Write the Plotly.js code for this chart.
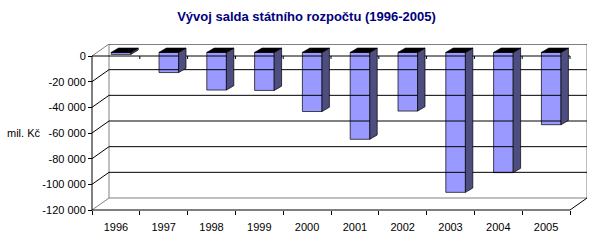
<!DOCTYPE html>
<html><head><meta charset="utf-8">
<script src="https://cdn.plot.ly/plotly-3.0.1.min.js"></script>
<style>html,body{margin:0;padding:0;background:#fff}#chart{width:604px;height:244px}</style>
</head><body><div id="chart"></div>
<script>
// ---- data ----
const years = ["1996","1997","1998","1999","2000","2001","2002","2003","2004","2005"];
const balance = [-1562, -15717, -29331, -29634, -46061, -67705, -45716, -109053, -93684, -56338];
const yTickVals = [0, -20000, -40000, -60000, -80000, -100000, -120000];
const yTickText = ["0", "-20 000", "-40 000", "-60 000", "-80 000", "-100 000", "-120 000"];

// ---- geometry (pixel-based oblique projection) ----
const W = 604, H = 244;
const mL = 87, mR = 17, mT = 44, mB = 30;
const pw = W - mL - mR, ph = H - mT - mB;
const pxPerCat = 47.8;
const yMin = -120000, pxPerUnit = 154 / 120000;
const padL = 5, padB = 4;
const xr = [-padL / pxPerCat, -padL / pxPerCat + pw / pxPerCat];
const yr = [yMin - padB / pxPerUnit, yMin - padB / pxPerUnit + ph / pxPerUnit];
const Dx = 17 / pxPerCat, Dy = 12 / pxPerUnit;           // full depth
const fX = 5.1 / pxPerCat, fY = 3.6 / pxPerUnit;          // bar front offset
const bX = 12.5 / pxPerCat, bY = 7.9 / pxPerUnit;         // bar back offset
const barW = 0.41;
const n = years.length;
const centers = years.map((_, i) => i + 0.5);

function seg(arrX, arrY, pts) { pts.forEach(p => { arrX.push(p[0]); arrY.push(p[1]); }); arrX.push(null); arrY.push(null); }

// walls (gray)
const gx = [], gy = [];
seg(gx, gy, [[Dx, Dy], [Dx, yMin + Dy], [n + Dx, yMin + Dy], [n + Dx, Dy]]);
seg(gx, gy, [[0, 0], [Dx, Dy]]);
seg(gx, gy, [[0, yMin], [Dx, yMin + Dy]]);
// gridlines (black) on back wall + side wall diagonals
const kx = [], ky = [];
yTickVals.forEach(v => {
  if (v !== yMin) seg(kx, ky, [[Dx, v + Dy], [n + Dx, v + Dy]]);
  if (v !== 0 && v !== yMin) seg(kx, ky, [[0, v], [Dx, v + Dy]]);
});
// front axis lines
const ax = [], ay = [];
seg(ax, ay, [[0, 0], [0, yMin]]);
seg(ax, ay, [[0, 0], [n, 0]]);
seg(ax, ay, [[0, yMin], [n, yMin], [n + Dx, yMin + Dy]]);
for (let i = 1; i <= n; i++) seg(ax, ay, [[i, 0], [i, -3 / pxPerUnit]]);

// bar side and top faces
const sx = [], sy = [], tx = [], ty = [];
centers.forEach((c, i) => {
  const v = balance[i], x0 = c - barW / 2, x1 = c + barW / 2;
  seg(sx, sy, [[x1 + fX, fY], [x1 + bX, bY], [x1 + bX, v + bY], [x1 + fX, v + fY], [x1 + fX, fY]]);
  seg(tx, ty, [[x0 + fX, fY], [x1 + fX, fY], [x1 + bX, bY], [x0 + bX, bY], [x0 + fX, fY]]);
});

const font = "Liberation Sans, Arial, sans-serif";
const traces = [
  {type: "scatter", mode: "lines", x: gx, y: gy, line: {color: "#808080", width: 1}, hoverinfo: "skip"},
  {type: "scatter", mode: "lines", x: kx, y: ky, line: {color: "#000000", width: 1}, hoverinfo: "skip"},
  {type: "scatter", mode: "lines", x: ax, y: ay, line: {color: "#000000", width: 1}, hoverinfo: "skip"},
  {type: "bar", x: centers.map(c => c + fX), y: balance, base: fY, width: barW,
   marker: {color: "#9999FF", line: {color: "#000000", width: 0.7}}, hoverinfo: "skip"},
  {type: "scatter", mode: "lines", x: sx, y: sy, fill: "toself", fillcolor: "#4D4D80",
   line: {color: "#000000", width: 0.7}, hoverinfo: "skip"},
  {type: "scatter", mode: "lines", x: tx, y: ty, fill: "toself", fillcolor: "#000000",
   line: {color: "#000000", width: 0.7}, hoverinfo: "skip"},
  {type: "scatter", mode: "markers", x: [0], y: [0], xaxis: "x2", marker: {opacity: 0}, hoverinfo: "skip"}
];

const layout = {
  width: W, height: H,
  margin: {l: mL, r: mR, t: mT, b: mB, pad: 0},
  paper_bgcolor: "#ffffff", plot_bgcolor: "#ffffff",
  showlegend: false,
  font: {family: font, size: 11, color: "#000000"},
  title: {text: "<b>Vývoj salda státního rozpočtu (1996-2005)</b>",
          font: {family: font, size: 13, color: "#000080"},
          xref: "paper", x: (306.5 - mL) / pw, xanchor: "center",
          yref: "container", y: 1 - 16 / H, yanchor: "middle"},
  xaxis: {range: xr, anchor: "free", position: padB / ph, tickmode: "array",
          tickvals: centers, ticktext: years, ticks: "", ticklabelstandoff: 9,
          showgrid: false, zeroline: false,
          showline: false, fixedrange: true, tickfont: {family: font, size: 11, color: "#000"}},
  xaxis2: {range: xr, overlaying: "x", anchor: "free", position: padB / ph, side: "bottom",
           tickmode: "array", tickvals: years.map((_, i) => i).concat([n]),
           ticks: "outside", ticklen: 4, tickcolor: "#000", tickwidth: 1,
           showticklabels: false, showgrid: false, zeroline: false, showline: false},
  yaxis: {range: yr, anchor: "free", position: padL / pw, tickmode: "array",
          tickvals: yTickVals, ticktext: yTickText, ticks: "outside", ticklen: 4,
          tickcolor: "#000", tickwidth: 1, showgrid: false, zeroline: false, showline: false,
          tickfont: {family: font, size: 11, color: "#000"}},
  annotations: [{text: "mil. Kč", xref: "paper", yref: "paper",
                 x: (23.5 - mL) / pw, y: (H - mB - 133) / ph, xanchor: "center", yanchor: "middle",
                 showarrow: false, font: {family: font, size: 11, color: "#000"}}]
};
Plotly.newPlot("chart", traces, layout, {staticPlot: true, displayModeBar: false});
</script></body></html>
